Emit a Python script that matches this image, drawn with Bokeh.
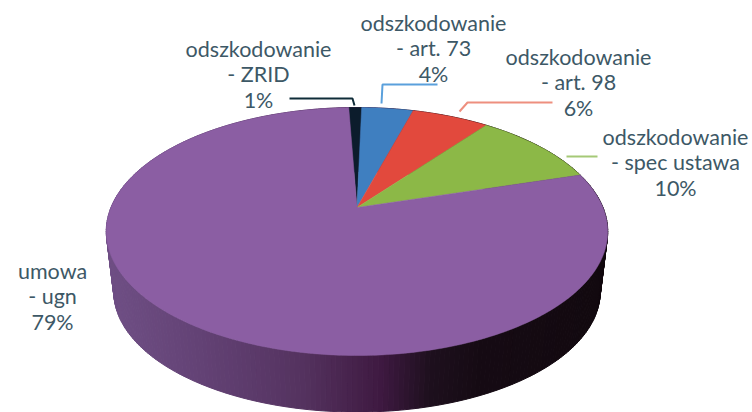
import numpy as np
from bokeh.embed import file_html
from bokeh.models import Range1d
from bokeh.plotting import figure
from bokeh.resources import INLINE
from bokeh.core.properties import value

# Shares in clockwise order, starting just left of twelve o'clock
names = ["odszkodowanie\n- ZRID", "odszkodowanie\n- art. 73", "odszkodowanie\n- art. 98",
         "odszkodowanie\n- spec ustawa", "umowa\n- ugn"]
shares = [1, 4, 6, 10, 79]
colors = ["#0c1c2c", "#3f7fc0", "#e2493d", "#8cb847", "#8b5ea3"]

label_x = [258, 433, 578, 675, 52]
label_top = [48, 22, 56, 136, 270]
LINE_STEP = 25.5
FONT = "Lato"
TEXT_COLOR = "#3d5866"

leaders = [
    ([289, 352, 354], [98, 98, 105], "#0f2c38"),
    ([381, 382, 437], [103, 84, 84], "#5aa0dc"),
    ([459, 467, 552], [111, 102, 102], "#ee8f7f"),
    ([566, 597], [156, 156], "#a5c977"),
]

# Perspective disc: far rim is squeezed, near rim stretched
START_DEG = -2.3
K = 0.1935
CX, CY, A, B = 356.5, 207.0, 246.0, 119.35
CY_LOW, SHRINK = 268.0, 0.97


def rim(theta, cy=CY, scale=1.0):
    u, v = np.sin(theta), np.cos(theta)
    w = 1 + K * v
    return CX + scale * A * u / w, cy - scale * B * v / w


# Side wall shading, sampled along the horizontal position
shade_x = [100, 200, 300, 380, 430, 480, 610]
shade_r = [0x70, 0x63, 0x55, 0x3f, 0x1e, 0x16, 0x12]
shade_g = [0x50, 0x42, 0x33, 0x1a, 0x10, 0x0b, 0x09]
shade_b = [0x86, 0x75, 0x60, 0x42, 0x1e, 0x14, 0x0f]

p = figure(width=752, height=412, output_backend="svg", toolbar_location=None,
           x_range=Range1d(0, 752), y_range=Range1d(412, 0),
           min_border=0, outline_line_color=None, background_fill_color="white",
           border_fill_color="white")
p.xaxis.visible = False
p.yaxis.visible = False
p.grid.visible = False

# Side wall as narrow quads between the upper and lower rim
angles = np.radians(np.linspace(0, 360, 361))
xt, yt = rim(angles)
xb, yb = rim(angles, CY_LOW, SHRINK)
wall_xs, wall_ys, wall_c = [], [], []
for i in range(360):
    wall_xs.append([xt[i], xt[i + 1], xb[i + 1], xb[i]])
    wall_ys.append([yt[i], yt[i + 1], yb[i + 1], yb[i]])
    mx = (xt[i] + xt[i + 1]) / 2
    r = np.interp(mx, shade_x, shade_r)
    g = np.interp(mx, shade_x, shade_g)
    b = np.interp(mx, shade_x, shade_b)
    wall_c.append("#%02x%02x%02x" % (int(r), int(g), int(b)))
p.patches(wall_xs, wall_ys, fill_color=wall_c, line_color=wall_c, line_width=1)

# Top face: one wedge per share
edges = np.radians(START_DEG + 3.6 * np.cumsum([0] + shares))
for a0, a1, c in zip(edges[:-1], edges[1:], colors):
    t = np.linspace(a0, a1, max(int(np.degrees(a1 - a0)), 2) + 1)
    x, y = rim(t)
    p.patch(np.r_[CX, x], np.r_[CY, y], fill_color=c, line_color=c, line_width=0.5)

for lx, ly, c in leaders:
    p.line(lx, ly, line_color=c, line_width=2)

# Category lines followed by the percentage
for name, share, x, top in zip(names, shares, label_x, label_top):
    for j, line in enumerate(name.split("\n") + [f"{share}%"]):
        p.text([x], [top + j * LINE_STEP], text=[line], text_font=value(FONT),
               text_font_size="21.5px", text_color=TEXT_COLOR,
               text_align="center", text_baseline="middle")

open("out.html", "w").write(file_html(p, INLINE))
